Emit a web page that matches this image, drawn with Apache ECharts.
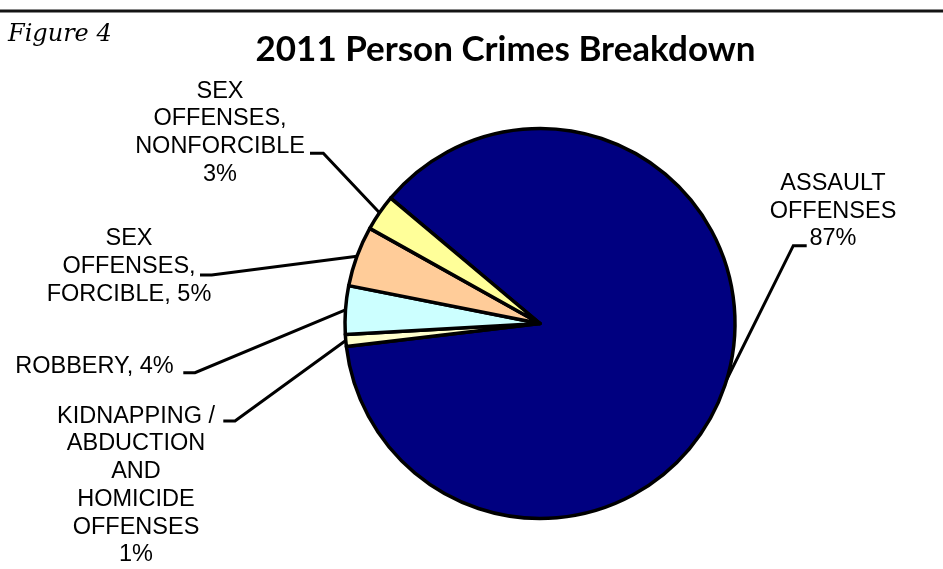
<!DOCTYPE html>
<html>
<head>
<meta charset="utf-8">
<title>2011 Person Crimes Breakdown</title>
<script src="https://cdn.jsdelivr.net/npm/echarts@6/dist/echarts.min.js"></script>
<style>
  html, body { margin: 0; padding: 0; background: #ffffff; }
  #chart { width: 943px; height: 569px; }
</style>
</head>
<body>
<div id="chart"></div>
<script>
// Offence categories (line breaks are how the labels wrap)
const categories = [
  'ASSAULT\nOFFENSES',
  'KIDNAPPING /\nABDUCTION\nAND\nHOMICIDE\nOFFENSES',
  'ROBBERY',
  'SEX\nOFFENSES,\nFORCIBLE',
  'SEX\nOFFENSES,\nNONFORCIBLE'
];
// Share of person crimes, percent
const shares = [87, 1, 4, 5, 3];
// Text placed between a category name and its percentage
const separators = ['\n', '\n', ', ', ', ', '\n'];

const sliceColors = ['#000080', '#FFFFCC', '#CCFFFF', '#FFCC99', '#FFFF99'];

const PIE_CENTER = [540, 323.5];
const PIE_RADIUS = 195;
const START_ANGLE = 140;

// Label block centres and the short horizontal tick that ends each leader line
const labelPlacement = [
  { x: 833,  y: 211.3, tick: [[793.3, 245.7], [806.7, 245.7]] },
  { x: 136,  y: 485.5, tick: [[235, 421], [223.3, 421]] },
  { x: 94.5, y: 366.3, tick: [[195, 372.7], [183.3, 372.7]] },
  { x: 129,  y: 266.5, tick: [[211.7, 275], [200, 275]] },
  { x: 220,  y: 132.75, tick: [[323.3, 153.3], [310, 153.3]] }
];

// Edge point of a slice at its middle angle (fallback if the library gives none)
function sliceEdgePoint(index) {
  const total = shares.reduce((a, b) => a + b, 0);
  let before = 0;
  for (let i = 0; i < index; i++) before += shares[i];
  const mid = START_ANGLE - (before + shares[index] / 2) / total * 360;
  const rad = mid * Math.PI / 180;
  return [PIE_CENTER[0] + PIE_RADIUS * Math.cos(rad), PIE_CENTER[1] - PIE_RADIUS * Math.sin(rad)];
}

const pieData = categories.map((name, i) => ({
  name: name,
  value: shares[i],
  itemStyle: { color: sliceColors[i] }
}));

const chart = echarts.init(document.getElementById('chart'), null, { renderer: 'canvas' });

chart.setOption({
  animation: false,
  backgroundColor: '#ffffff',
  title: {
    text: '2011 Person Crimes Breakdown',
    left: 500.5,
    top: 27,
    textAlign: 'center',
    textStyle: {
      fontFamily: 'Lato',
      fontWeight: 'bold',
      fontSize: 35,
      color: '#000000'
    }
  },
  graphic: [
    {
      type: 'line',
      shape: { x1: 0, y1: 11, x2: 943, y2: 11 },
      style: { stroke: '#141414', lineWidth: 3 },
      silent: true
    },
    {
      type: 'text',
      left: 8,
      top: 23,
      style: {
        text: 'Figure 4',
        fontFamily: 'DejaVu Serif',
        fontStyle: 'italic',
        fontSize: 24,
        fill: '#000000'
      },
      silent: true
    }
  ],
  series: [
    {
      type: 'pie',
      center: PIE_CENTER,
      radius: PIE_RADIUS,
      startAngle: START_ANGLE,
      clockwise: true,
      avoidLabelOverlap: false,
      minShowLabelAngle: 0,
      emphasis: { disabled: true },
      data: pieData,
      itemStyle: {
        borderColor: '#000000',
        borderWidth: 3.5,
        borderJoin: 'round'
      },
      label: {
        show: true,
        position: 'outside',
        formatter: (p) => p.name + separators[p.dataIndex] + p.value + '%',
        fontFamily: 'Liberation Sans',
        fontSize: 23.5,
        lineHeight: 27.7,
        color: '#000000',
        align: 'center'
      },
      labelLine: {
        show: true,
        length: 10,
        length2: 10,
        lineStyle: { color: '#000000', width: 3 }
      },
      labelLayout: function (params) {
        const place = labelPlacement[params.dataIndex];
        const start = (params.labelLinePoints && params.labelLinePoints[0])
          ? params.labelLinePoints[0].slice()
          : sliceEdgePoint(params.dataIndex);
        return {
          x: place.x,
          y: place.y,
          align: 'center',
          verticalAlign: 'middle',
          labelLinePoints: [start, place.tick[0], place.tick[1]]
        };
      }
    }
  ]
});
</script>
</body>
</html>
